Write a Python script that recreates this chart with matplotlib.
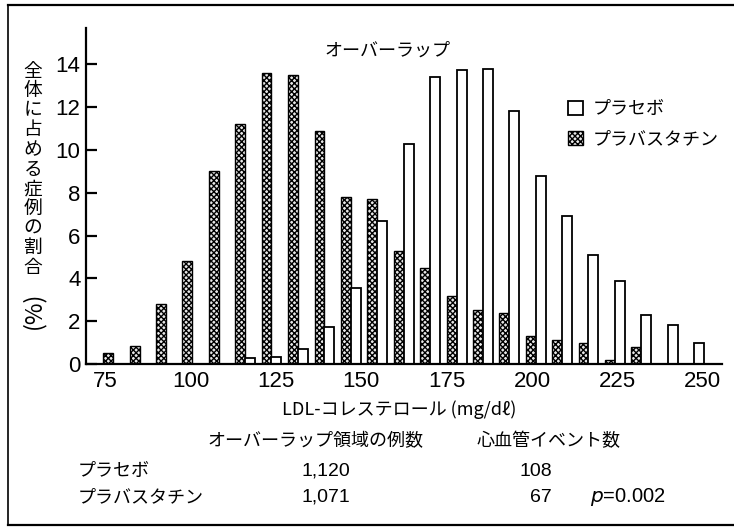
import matplotlib
matplotlib.use("Agg")
import matplotlib.pyplot as plt
from matplotlib.patches import Rectangle
from matplotlib.lines import Line2D
from matplotlib import font_manager

plt.rcParams['font.family'] = ['Noto Sans CJK JP', 'DejaVu Sans']
plt.rcParams['hatch.linewidth'] = 1.0

# LDL-C bin centres (mg/dL; 0.2 mmol/L bins from 2.0 to 6.4 mmol/L)
bins = [77.3, 85.1, 92.8, 100.5, 108.3, 116.0, 123.7, 131.5, 139.2, 146.9, 154.7,
        162.4, 170.1, 177.9, 185.6, 193.3, 201.1, 208.8, 216.5, 224.3, 232.0, 239.7, 247.5]
pravastatin = [0.5, 0.85, 2.8, 4.8, 9.0, 11.2, 13.6, 13.5, 10.9, 7.8, 7.7, 5.3,
               4.5, 3.2, 2.5, 2.4, 1.3, 1.1, 1.0, 0.2, 0.8, 0.0, 0.0]
placebo = [0.0, 0.0, 0.0, 0.0, 0.0, 0.3, 0.35, 0.7, 1.75, 3.55, 6.7, 10.3,
           13.4, 13.75, 13.8, 11.8, 8.8, 6.9, 5.1, 3.9, 2.3, 1.8, 1.0]
xticks = [75, 100, 125, 150, 175, 200, 225, 250]
yticks = [0, 2, 4, 6, 8, 10, 12, 14]

title = "オーバーラップ"
ylabel_chars = "全体に占める症例の割合"
xlabel = "LDL-コレステロール (mg/dℓ)"
legend_labels = ["プラセボ", "プラバスタチン"]
table_header = ["オーバーラップ領域の例数", "心血管イベント数"]
table_rows = ["プラセボ", "プラバスタチン"]
overlap_counts = ["1,120", "1,071"]
event_counts = ["108", "67"]
p_text = r"$p$=0.002"

names = {f.name for f in font_manager.fontManager.ttflist}
num_family = ['Liberation Sans Narrow'] if 'Liberation Sans Narrow' in names else ['Liberation Sans', 'DejaVu Sans']

W, H = 734, 528
fig = plt.figure(figsize=(W / 100, H / 100), dpi=100)

def fx(px):
    return px / W

def fy(py):
    return 1 - py / H

ax_left, ax_right, ax_top, ax_bottom = 86, 722, 28, 364
ax = fig.add_axes([fx(ax_left), fy(ax_bottom), fx(ax_right - ax_left), (ax_bottom - ax_top) / H])
ax.set_xlim(69.4, 255.6)
ax.set_ylim(0, 15.7)

bw = 2.9
ax.bar([b - bw / 2 for b in bins], pravastatin, width=bw, facecolor='#e8e8e8',
       edgecolor='black', hatch='xxxxxx', linewidth=1.0, label=legend_labels[1])
ax.bar([b + bw / 2 for b in bins], placebo, width=bw, facecolor='white',
       edgecolor='black', linewidth=1.3, label=legend_labels[0])

for s in ['top', 'right']:
    ax.spines[s].set_visible(False)
for s in ['left', 'bottom']:
    ax.spines[s].set_linewidth(1.6)

ax.set_xticks(xticks)
ax.set_yticks(yticks)
ax.tick_params(axis='x', length=0, pad=5)
ax.tick_params(axis='y', direction='in', length=8, width=1.6, pad=4)
for lab in ax.get_xticklabels() + ax.get_yticklabels():
    lab.set_fontfamily(num_family)
    lab.set_fontsize(16)

# title
fig.text(fx(387), fy(51), title, ha='center', va='center', fontsize=13)

# legend (manual)
handles = [Rectangle((0, 0), 1, 1, facecolor='white', edgecolor='black', linewidth=1.3),
           Rectangle((0, 0), 1, 1, facecolor='#e8e8e8', edgecolor='black', hatch='xxxxxx', linewidth=1.0)]
fig.legend(handles, legend_labels, loc='upper left',
           bbox_to_anchor=(fx(561), fy(93)), frameon=False, fontsize=13,
           handlelength=0.8, handleheight=0.8, handletextpad=0.55, labelspacing=0.65,
           borderaxespad=0)

# y label (vertical writing)
for i, ch in enumerate(ylabel_chars):
    fig.text(fx(33), fy(71 + i * 19.6), ch, ha='center', va='center', fontsize=13.5)
fig.text(fx(33), fy(310), "(%)", ha='center', va='center', fontsize=17, rotation=90)

# x label
fig.text(fx(399), fy(410), xlabel, ha='center', va='center', fontsize=13)

# table
fig.text(fx(315), fy(441), table_header[0], ha='center', va='center', fontsize=13)
fig.text(fx(549), fy(441), table_header[1], ha='center', va='center', fontsize=13)
for i, (lab, oc, ec) in enumerate(zip(table_rows, overlap_counts, event_counts)):
    y = 471 + i * 26
    fig.text(fx(78), fy(y), lab, ha='left', va='center', fontsize=13)
    fig.text(fx(326), fy(y), oc, ha='center', va='center', fontsize=14, family=num_family)
    fig.text(fx(552), fy(y), ec, ha='right', va='center', fontsize=14, family=num_family)
fig.text(fx(590), fy(497), p_text, ha='left', va='center', fontsize=14.5, family=num_family)

# outer frame
fig.add_artist(Line2D([fx(8), fx(8)], [fy(5), fy(525)], color='black', linewidth=1.2))
fig.add_artist(Line2D([fx(8), fx(734)], [fy(5), fy(5)], color='black', linewidth=1.6))
fig.add_artist(Line2D([fx(8), fx(734)], [fy(525), fy(525)], color='black', linewidth=1.6))

fig.savefig("out.png", dpi=100)
